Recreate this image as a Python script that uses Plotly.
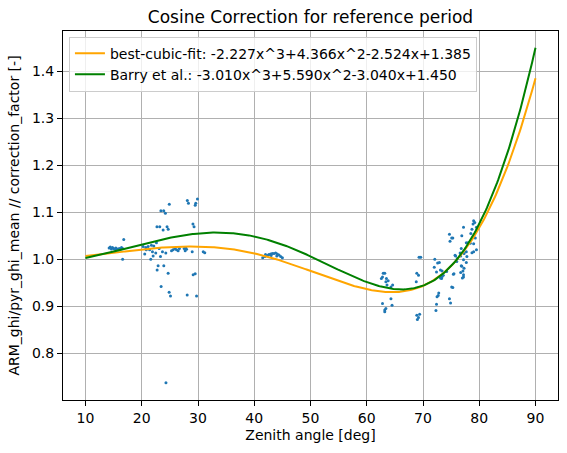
import numpy as np
import plotly.graph_objects as go

# ---- data ----
zenith_deg = [
    14.2, 14.4, 14.6, 14.8, 15.0, 15.2, 15.4, 15.6, 15.8, 16.0, 16.2, 16.4, 16.6, 16.8, 16.6,
    28.1, 28.3, 29.9, 29.6, 29.5, 24.9, 23.4, 23.9, 24.2, 22.7, 23.2, 23.8, 24.5, 24.7, 29.1, 29.3,
    20.24, 20.71, 21.13, 21.72, 22.14, 22.61, 23.09, 23.68, 24.28, 25.29, 25.58, 26.18, 26.47,
    27.54, 27.72, 27.96, 28.97, 30.93, 31.2,
    20.53, 21.6, 22.02, 22.49, 23.33, 21.4, 21.9, 20.8, 25.9, 26.7, 27.8,
    22.91, 23.92, 22.73, 24.69, 29.14, 29.5, 23.44, 24.87, 25.11, 28.08, 29.74,
    24.3,
    41.5, 41.9, 42.3, 42.6, 42.9, 43.2, 43.5, 43.8, 44.1, 44.4, 44.7, 45.0, 42.0, 43.0, 44.0,
    62.93, 63.2, 62.8, 62.6, 63.5, 63.4, 63.8, 63.6, 64.3, 64.6, 64.3, 62.8, 63.2, 63.4, 63.2, 64.5,
    68.9, 69.2, 68.8, 68.9, 69.4, 69.2, 69.0, 69.3, 69.6,
    72.1, 72.0, 72.6, 72.9, 72.4, 73.1, 73.4, 73.6, 73.3, 73.1, 75.7, 76.6, 76.1, 77.3, 76.9,
    77.1, 75.4, 77.2, 77.8, 75.1, 75.3, 74.7, 74.9, 72.8, 72.7, 72.5, 72.4, 72.3,
    77.2, 79.0, 78.9, 79.2, 79.5, 78.7, 78.5, 74.7, 75.3, 75.1, 74.8, 76.9, 77.7, 78.0, 78.4,
    79.0, 79.3, 78.7, 79.0, 79.5, 76.8, 76.7, 77.2, 77.7, 76.8, 75.8, 76.0, 76.7, 77.3, 77.2,
    77.0, 77.7, 75.5, 74.2, 73.4,
]
ratio = [
    1.024, 1.026, 1.022, 1.025, 1.023, 1.021, 1.024, 1.022, 1.020, 1.023, 1.021, 1.025, 1.023, 1.042, 1.000,
    1.125, 1.119, 1.128, 1.119, 1.115, 1.117, 1.103, 1.103, 1.098, 1.069, 1.069, 1.062, 1.069, 1.064, 1.075, 1.069,
    1.027, 1.025, 1.027, 1.030, 1.028, 1.035, 1.023, 1.016, 1.013, 1.018, 1.020, 1.020, 1.018,
    1.023, 1.018, 1.021, 1.016, 1.016, 1.014,
    1.011, 1.000, 1.007, 1.013, 1.006, 1.020, 1.016, 1.020, 1.023, 1.023, 1.025,
    0.986, 0.986, 0.977, 0.970, 0.967, 0.969, 0.942, 0.930, 0.922, 0.924, 0.922,
    0.737,
    1.003, 1.006, 1.008, 1.010, 1.011, 1.012, 1.012, 1.013, 1.011, 1.009, 1.006, 1.003, 1.010, 1.008, 1.007,
    0.970, 0.970, 0.962, 0.959, 0.959, 0.952, 0.954, 0.945, 0.941, 0.945, 0.916, 0.906, 0.892, 0.895, 0.888, 0.902,
    0.970, 0.966, 0.952, 0.881, 0.883, 0.876, 0.872, 1.004, 1.004,
    1.000, 0.983, 0.992, 0.993, 0.973, 0.977, 0.975, 0.966, 0.959, 0.960, 1.0085, 1.0135, 1.0014, 1.012, 0.985,
    0.975, 0.968, 0.962, 1.006, 0.941, 0.940, 0.916, 0.907, 0.928, 0.923, 0.920, 0.904, 0.891,
    1.068, 1.082, 1.075, 1.078, 1.068, 1.064, 1.055, 1.053, 1.045, 1.045, 1.038, 1.050, 1.035, 1.035, 1.034,
    1.033, 1.045, 1.014, 1.016, 1.020, 1.023, 1.007, 0.999, 1.016, 0.986, 1.007, 0.995, 0.972, 0.981, 0.967,
    0.960, 0.993, 0.969, 0.974, 0.963,
]

# polynomial coefficients in cos(zenith), highest power first (from the legend)
best_fit_coef = [-2.227, 4.366, -2.524, 1.385]
barry_coef = [-3.010, 5.590, -3.040, 1.450]
best_fit_label = "best-cubic-fit: -2.227x^3+4.366x^2-2.524x+1.385"
barry_label = "Barry et al.: -3.010x^3+5.590x^2-3.040x+1.450"
zen_min, zen_max = 10, 90

zen_curve = np.linspace(zen_min, zen_max, 400)
cz = np.cos(np.radians(zen_curve))

fig = go.Figure()
fig.add_trace(go.Scatter(
    x=zenith_deg, y=ratio, mode="markers",
    marker=dict(color="#1f77b4", size=3, line=dict(width=0)),
    showlegend=False,
))
fig.add_trace(go.Scatter(
    x=zen_curve, y=np.polyval(best_fit_coef, cz), mode="lines",
    line=dict(color="#FFA500", width=2), name=best_fit_label,
))
fig.add_trace(go.Scatter(
    x=zen_curve, y=np.polyval(barry_coef, cz), mode="lines",
    line=dict(color="#008000", width=2), name=barry_label,
))

font = "DejaVu Sans"
axis_common = dict(
    showline=True, linecolor="black", linewidth=1, mirror=True,
    ticks="outside", ticklen=5, tickwidth=1, tickcolor="black",
    showgrid=True, gridcolor="#b0b0b0", gridwidth=1,
    zeroline=False, tickfont=dict(family=font, size=14, color="black"),
)
fig.update_layout(
    width=567, height=453,
    margin=dict(l=63, r=9, t=31, b=53, autoexpand=False),
    paper_bgcolor="white", plot_bgcolor="white",
    font=dict(family=font, size=14, color="black"),
    title=dict(text="Cosine Correction for reference period", x=0.5, xref="paper",
               xanchor="center", y=1 - 17 / 453, yref="container", yanchor="middle",
               font=dict(family=font, size=17, color="black")),
    xaxis=dict(range=[6, 94], tickmode="array", tickvals=list(range(10, 91, 10)),
               title=dict(text="Zenith angle [deg]", standoff=5,
                          font=dict(family=font, size=14)), **axis_common),
    yaxis=dict(range=[0.7005, 1.4856], tick0=0.8, dtick=0.1, tickformat=".1f",
               title=dict(text="ARM_ghi/pyr_ghi_mean // correction_factor [-]", standoff=9,
                          font=dict(family=font, size=14)), **axis_common),
    legend=dict(x=0.012, y=0.985, xanchor="left", yanchor="top",
                bgcolor="rgba(255,255,255,0.8)", bordercolor="#cccccc", borderwidth=1,
                font=dict(family=font, size=14, color="black"), tracegroupgap=0),
)

fig.write_html("out.html")
